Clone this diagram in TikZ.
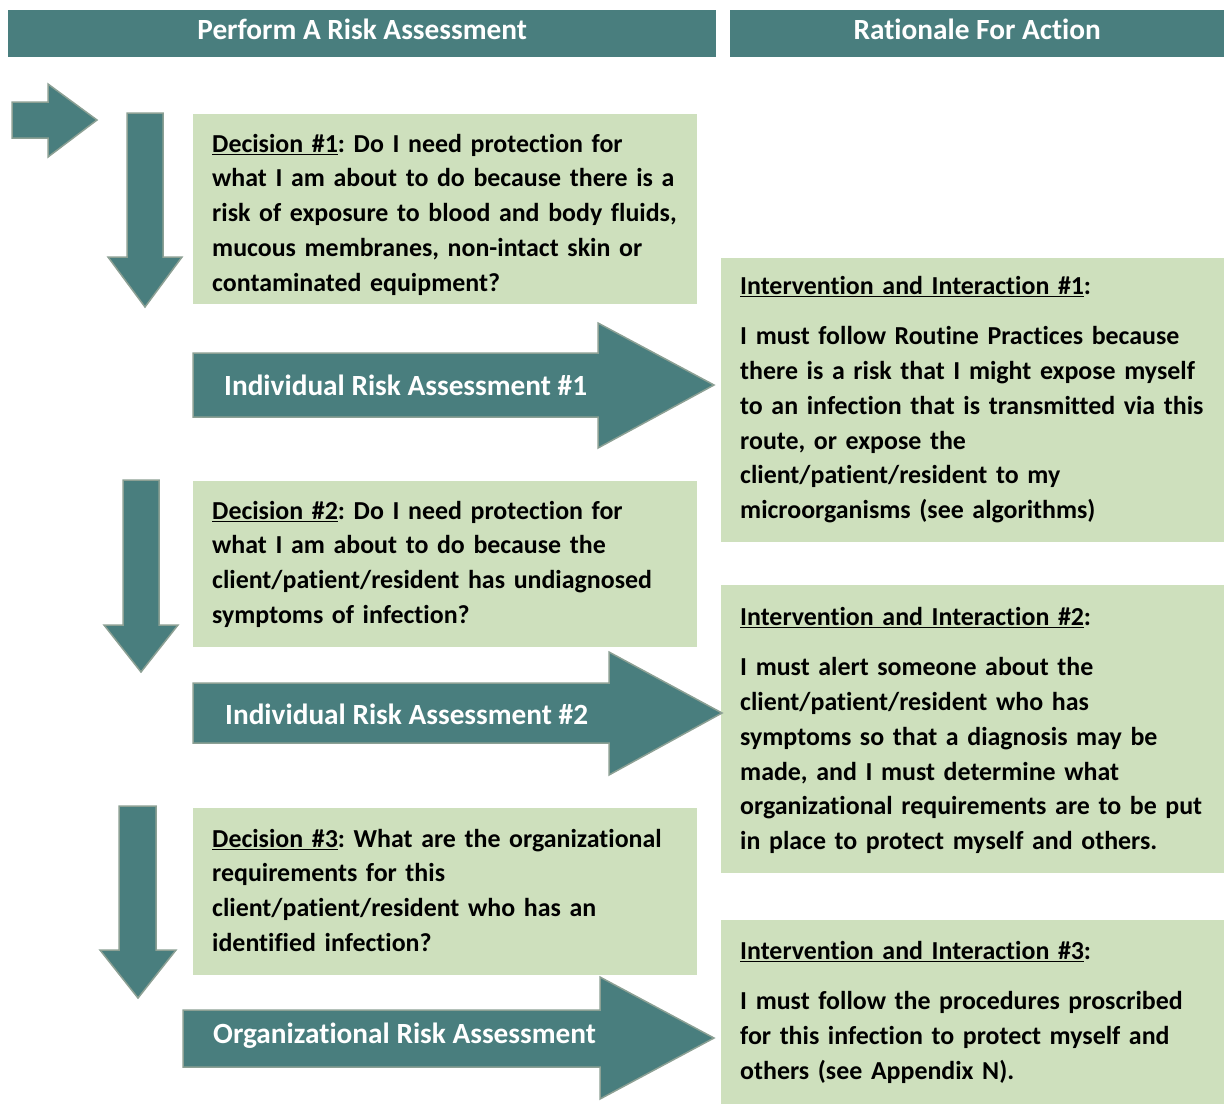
\documentclass[tikz,border=0pt]{standalone}
\usepackage{fontspec}
\setmainfont{Carlito}[Ligatures=NoCommon]
\usepackage{tikz}
\definecolor{riskteal}{RGB}{73,126,126}
\definecolor{riskgreen}{RGB}{206,224,189}
\definecolor{riskedge}{RGB}{140,160,148}
\frenchspacing

\begin{document}
\begin{tikzpicture}[x=1pt,y=-1pt]
              \tikzstyle{every node}+=[inner sep=0pt]
              \tikzstyle{header}=[fill=riskteal, text=white, anchor=north west, text height=29pt, text depth=18pt,
                font=\bfseries\fontsize{29.3}{34}\selectfont]
              \tikzstyle{blockarrow}=[fill=riskteal, draw=riskedge, line width=1.5pt, line join=miter]
              \tikzstyle{arrowtext}=[text=white, anchor=west, font=\bfseries\fontsize{29.3}{34}\selectfont]
              \tikzstyle{decision}=[fill=riskgreen, anchor=north west, align=left, text width=466pt,
                inner xsep=19pt, font=\bfseries\fontsize{25.9}{34.75}\selectfont]
              \tikzstyle{rationale}=[decision, text width=465pt, inner xsep=19pt]
              \useasboundingbox (0,0) rectangle (1230,1106);
              % column headers
              \node [header, minimum width=708pt] (perform) at (8,10) {Perform A Risk Assessment};
              \node [header, minimum width=494pt] (rationale) at (730,10) {Rationale For Action};
              % start arrow
              \draw [blockarrow] (12,102) -- (48,102) -- (48,84) -- (97,120) -- (48,157) -- (48,138) -- (12,138) -- cycle;
              % decision boxes
              \node [decision, text height=38pt, text depth=152pt] (dec1) at (193,114)
                {\underline{Decision \#1}: Do I need protection for\\
                 what I am about to do because there is a\\
                 risk of exposure to blood and body fluids,\\
                 mucous membranes, non-intact skin or\\
                 contaminated equipment?};
              \node [decision, text height=38pt, text depth=128pt] (dec2) at (193,481)
                {\underline{Decision \#2}: Do I need protection for\\
                 what I am about to do because the\\
                 client/patient/resident has undiagnosed\\
                 symptoms of infection?};
              \node [decision, text height=39pt, text depth=128pt] (dec3) at (193,808)
                {\underline{Decision \#3}: What are the organizational\\
                 requirements for this\\
                 client/patient/resident who has an\\
                 identified infection?};
              % rationale boxes
              \node [rationale, text height=36pt, text depth=248pt] (act1) at (721,258)
                {\underline{Intervention and Interaction \#1}:\\[16pt]
                 I must follow Routine Practices because\\
                 there is a risk that I might expose myself\\
                 to an infection that is transmitted via this\\
                 route, or expose the\\
                 client/patient/resident to my\\
                 microorganisms (see algorithms)};
              \node [rationale, text height=40pt, text depth=248pt] (act2) at (721,585)
                {\underline{Intervention and Interaction \#2}:\\[16pt]
                 I must alert someone about the\\
                 client/patient/resident who has\\
                 symptoms so that a diagnosis may be\\
                 made, and I must determine what\\
                 organizational requirements are to be put\\
                 in place to protect myself and others.};
              \node [rationale, text height=39pt, text depth=145pt] (act3) at (721,920)
                {\underline{Intervention and Interaction \#3}:\\[16pt]
                 I must follow the procedures proscribed\\
                 for this infection to protect myself and\\
                 others (see Appendix N).};
              % down arrows
              \draw [blockarrow] (127,113) -- (163,113) -- (163,257) -- (182,257) -- (145,307) -- (108,257) -- (127,257) -- cycle;
              \draw [blockarrow] (123,480) -- (159,480) -- (159,625) -- (178,625) -- (141,672) -- (104,625) -- (123,625) -- cycle;
              \draw [blockarrow] (119,806) -- (156,806) -- (156,950) -- (176,950) -- (138,998) -- (100,950) -- (119,950) -- cycle;
              % assessment arrows
              \draw [blockarrow] (193,353) -- (598,353) -- (598,323) -- (714,385) -- (598,448) -- (598,417) -- (193,417) -- cycle;
              \node [arrowtext] (ira1) at (224,385) {Individual Risk Assessment \#1};
              \draw [blockarrow] (193,683) -- (609,683) -- (609,652) -- (722,713) -- (609,775) -- (609,743) -- (193,743) -- cycle;
              \node [arrowtext] (ira2) at (225,714) {Individual Risk Assessment \#2};
              \draw [blockarrow] (183,1010) -- (600,1010) -- (600,977) -- (714,1038) -- (600,1099) -- (600,1067) -- (183,1067) -- cycle;
              \node [arrowtext] (ora) at (213,1036) {Organizational Risk Assessment};
            \end{tikzpicture}
\end{document}
